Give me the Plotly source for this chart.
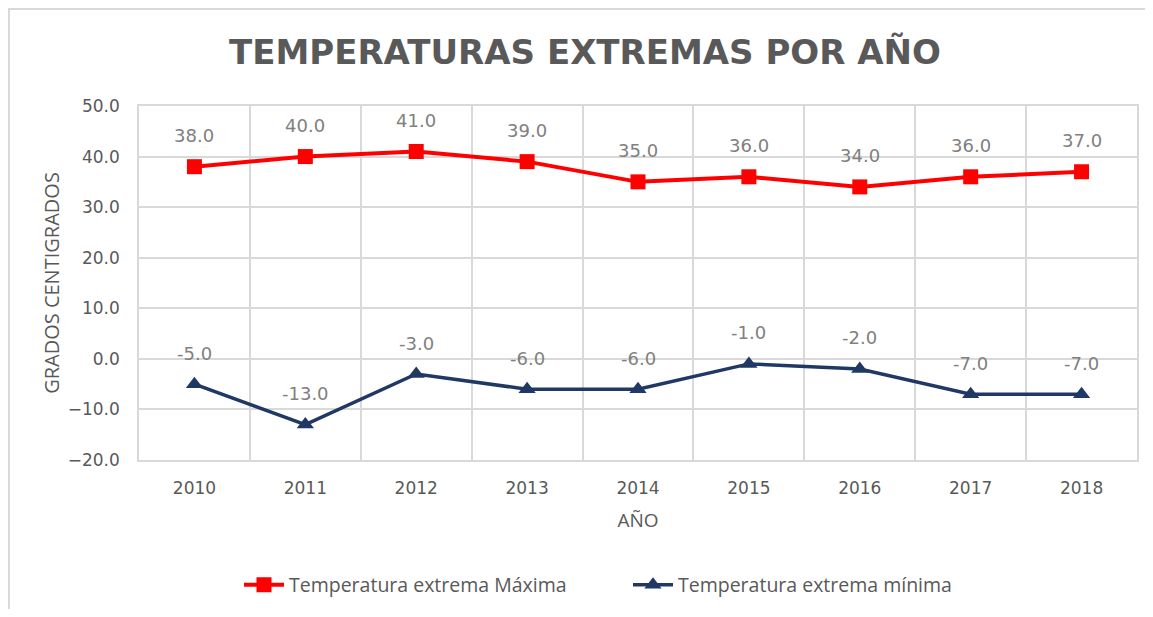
import plotly.graph_objects as go

years = ["2010", "2011", "2012", "2013", "2014", "2015", "2016", "2017", "2018"]
t_max = [38.0, 40.0, 41.0, 39.0, 35.0, 36.0, 34.0, 36.0, 37.0]
t_min = [-5.0, -13.0, -3.0, -6.0, -6.0, -1.0, -2.0, -7.0, -7.0]
name_max = "Temperatura extrema Máxima"
name_min = "Temperatura extrema mínima"
title_text = "TEMPERATURAS EXTREMAS POR AÑO"

RED = "#FF0000"
NAVY = "#203864"
GRAY = "#595959"
LBL = "#808080"
GRID = "#D9D9D9"

OFF = 8  # page body margin
W, H = 1153 - 2 * OFF, 617 - 2 * OFF
L, R, T, B = 139 - OFF, 1137 - OFF, 106 - OFF, 460 - OFF
pw, ph = R - L, B - T

fig = go.Figure()
fig.add_trace(go.Scatter(x=years, y=t_max, name=name_max, mode="lines+markers",
                         line=dict(color=RED, width=4),
                         marker=dict(symbol="square", size=15, color=RED)))
fig.add_trace(go.Scatter(x=years, y=t_min, name=name_min, mode="lines+markers",
                         line=dict(color=NAVY, width=3.5),
                         marker=dict(symbol="triangle-up", size=15, color=NAVY)))

annotations = []
for series in (t_max, t_min):
    for i, v in enumerate(series):
        annotations.append(dict(x=i, y=v, xref="x", yref="y", text=f"{v:.1f}",
                                showarrow=False, yshift=31,
                                font=dict(family="DejaVu Sans", size=18, color=LBL)))

fig.add_shape(type="rect", xref="paper", yref="paper",
              x0=(1 - L) / pw, x1=(1180 - OFF - L) / pw,
              y0=(B - 700) / ph, y1=(B - 1) / ph,
              line=dict(color="#D9D9D9", width=2), fillcolor="rgba(0,0,0,0)", layer="below")

fig.update_layout(
    width=W, height=H,
    paper_bgcolor="white", plot_bgcolor="white",
    margin=dict(l=L, r=W - R, t=T, b=H - B, autoexpand=False),
    title=dict(text=title_text, x=(585 - OFF) / W, xanchor="center", y=1 - (52 - OFF) / H, yanchor="middle",
               font=dict(family="DejaVu Sans", size=34, color=GRAY, weight="bold")),
    xaxis=dict(type="category", range=[-0.5, 8.5], tickson="boundaries",
               showgrid=True, gridcolor=GRID, gridwidth=1.5,
               showline=True, linecolor=GRID, linewidth=1.5, mirror=True,
               ticks="", ticklen=0, ticklabelstandoff=12,
               tickfont=dict(family="DejaVu Sans", size=17, color=GRAY),
               title=dict(text="AÑO", font=dict(family="Open Sans", size=19, color=GRAY), standoff=17)),
    yaxis=dict(range=[-20, 50], dtick=10, tickformat=".1f",
               showgrid=True, gridcolor=GRID, gridwidth=1.5, zeroline=False,
               showline=True, linecolor=GRID, linewidth=1.5, mirror=True,
               ticks="", ticklabelstandoff=14,
               tickfont=dict(family="DejaVu Sans", size=17, color=GRAY),
               title=dict(text="GRADOS CENTIGRADOS", font=dict(family="Open Sans", size=20, color=GRAY), standoff=3)),
    legend=dict(orientation="h", x=(628 - OFF - L) / pw, xanchor="center", y=(B - (585 - OFF)) / ph, yanchor="middle",
                font=dict(family="Open Sans", size=19.5, color=GRAY), itemwidth=40,
                traceorder="normal", entrywidth=334),
    showlegend=True,
    annotations=annotations,
)

fig.write_html("out.html")
